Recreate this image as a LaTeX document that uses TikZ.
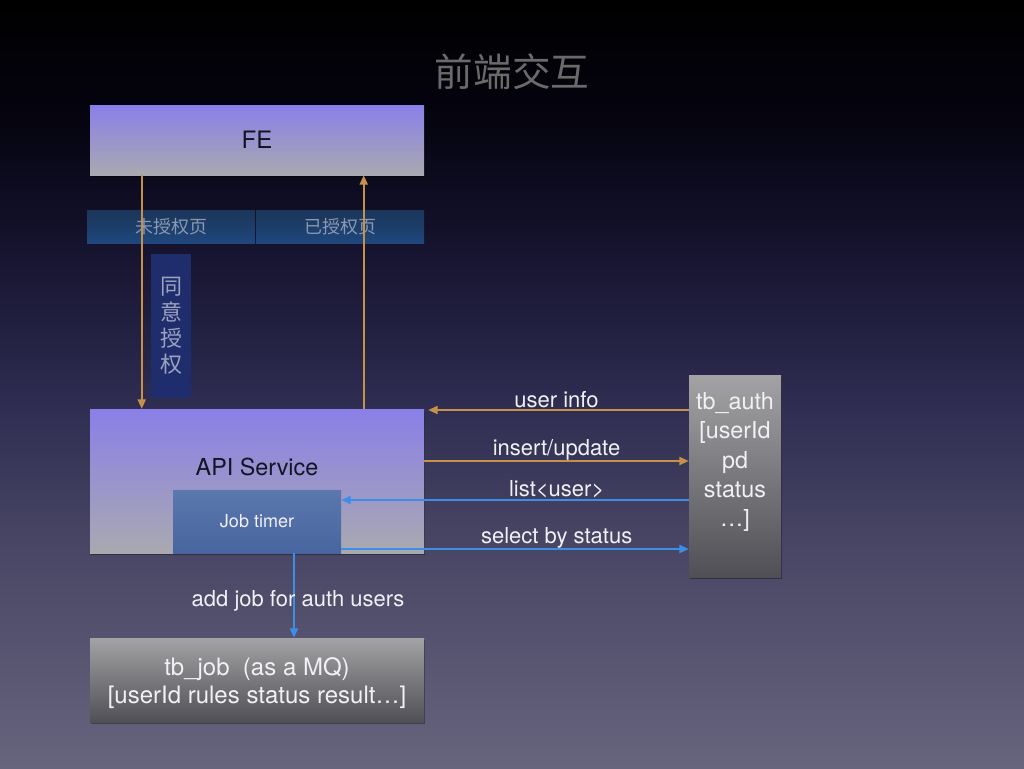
\documentclass[tikz,border=0pt]{standalone}
\usepackage{fontspec}
\setmainfont{TeX Gyre Heros}
\newfontfamily\cjk{Noto Sans CJK SC}
\usetikzlibrary{arrows.meta, shadows, positioning}

\definecolor{bgA}{HTML}{67647E}
\definecolor{bgB}{HTML}{4A4766}
\definecolor{bgC}{HTML}{2E2C50}
\definecolor{bgD}{HTML}{15132E}
\definecolor{bgE}{HTML}{050410}
\definecolor{lineorange}{HTML}{C8914A}
\definecolor{lineblue}{HTML}{3D8EE8}
\definecolor{purpletop}{HTML}{8A7FE8}
\definecolor{graybot}{HTML}{A9A9B0}
\definecolor{tabtop}{HTML}{1B3558}
\definecolor{tabbot}{HTML}{1F477E}
\definecolor{tabtext}{HTML}{8A98B2}
\definecolor{agreefill}{HTML}{202D6C}
\definecolor{agreetext}{HTML}{9AA3C0}
\definecolor{timertop}{HTML}{5A77AE}
\definecolor{timerbot}{HTML}{48659F}
\definecolor{tbtop}{HTML}{A3A3A5}
\definecolor{tbbot}{HTML}{4F4F55}
\definecolor{darktext}{HTML}{141425}
\definecolor{lighttext}{HTML}{F0F0F5}
\definecolor{titlegray}{HTML}{6A6A6A}

\pgfdeclareverticalshading{bgshade}{100bp}{color(0bp)=(bgA); color(25bp)=(bgA); color(39bp)=(bgB); color(49bp)=(bgC); color(59bp)=(bgD); color(67bp)=(bgE); color(75bp)=(black); color(100bp)=(black)}

\begin{document}
\begin{tikzpicture}[x=0.75pt, y=-0.75pt, >={Triangle[length=7pt,width=6pt]},
    box/.style={rectangle, inner sep=0pt, drop shadow={shadow xshift=1pt, shadow yshift=-1.5pt, opacity=0.35, fill=black}},
    service/.style={box, top color=purpletop, bottom color=graybot, minimum width=250.5pt, text=darktext},
    tab/.style={rectangle, inner sep=0pt, top color=tabtop, bottom color=tabbot, minimum width=126pt, minimum height=24.75pt, text=tabtext, font=\cjk\fontsize{13.5}{16}\selectfont},
    table/.style={box, top color=tbtop, bottom color=tbbot, text=lighttext, align=center, font=\fontsize{17.5}{21}\selectfont},
    lbl/.style={text=lighttext, inner sep=1pt, font=\fontsize{16.5}{20}\selectfont},
    oline/.style={draw=lineorange, line width=1.4pt},
    bline/.style={draw=lineblue, line width=1.4pt}]

    \shade[shading=bgshade] (0,0) rectangle (1024,768);
    \useasboundingbox (0,0) rectangle (1024,768);

    % title
    \node[text=titlegray, font=\cjk\fontsize{29}{34}\selectfont] (title) at (512,72) {前端交互};

    % front end and its pages
    \node[service, minimum height=52.5pt, font=\fontsize{18}{22}\selectfont] (fe) at (257,140) {FE};
    \node[tab] (noauth) at (171,226.5) {未授权页};
    \node[tab] (authed) at (340,226.5) {已授权页};
    \node[rectangle, inner sep=0pt, fill=agreefill, minimum width=30pt, minimum height=108pt, text=agreetext, align=center, font=\cjk\fontsize{16.5}{19.5}\selectfont] (agree) at (171,326) {同\\意\\授\\权};

    % api service
    \node[service, minimum height=108pt] (api) at (257,481) {};
    \node[text=darktext, font=\fontsize{17.5}{21}\selectfont] (apiname) at (257,467) {API Service};
    \node[rectangle, inner sep=0pt, top color=timertop, bottom color=timerbot, minimum width=126pt, minimum height=47.25pt, text=lighttext, font=\fontsize{13.5}{16}\selectfont] (timer) at (257,521.5) {Job timer};

    % tables
    \node[table, minimum width=69pt, minimum height=151.5pt] (auth) at (735,476) {};
    \node[text=lighttext, align=center, font=\fontsize{17.5}{22}\selectfont] (authcols) at (735,462) {tb\_auth\\{[}userId\\pd\\status\\\dots]};
    \node[table, minimum width=250.5pt, minimum height=63pt, font=\fontsize{18}{21}\selectfont] (tbjob) at (257,680) {};
    \node[text=lighttext, align=center, font=\fontsize{18}{21}\selectfont] (jobcols) at (257,683) {tb\_job\ \ (as a MQ)\\{[}userId rules status result\dots]};

    \coordinate (uiy) at (0,410);
    \coordinate (iuy) at (0,461);
    \coordinate (lsy) at (0,500);
    \coordinate (sey) at (0,549);
    \coordinate (jobx) at (294,0);

    % connectors
    \draw[oline, ->] ([xshift=39pt]fe.south west) -- ([xshift=39pt]api.north west);
    \draw[oline, ->] ([xshift=205.5pt]api.north west) -- ([xshift=205.5pt]fe.south west);

    \draw[oline, ->, shorten >=3pt] (auth.west |- uiy) -- (api.east |- uiy) node[lbl, midway, above] {user info};
    \draw[oline, ->] (api.east |- iuy) -- (auth.west |- iuy) node[lbl, midway, above, inner sep=0pt] {insert/update};
    \draw[bline, ->] (auth.west |- lsy) -- (timer.east |- lsy) node[lbl, pos=0.38, above] {list\textless user\textgreater};
    \draw[bline, ->] (timer.east |- sey) -- (auth.west |- sey) node[lbl, pos=0.62, above, inner sep=0pt] {select by status};
    \draw[bline, ->] (api.south -| jobx) -- (tbjob.north -| jobx) node[lbl, midway, xshift=3pt, yshift=-4pt] {add job for auth users};

\end{tikzpicture}
\end{document}
